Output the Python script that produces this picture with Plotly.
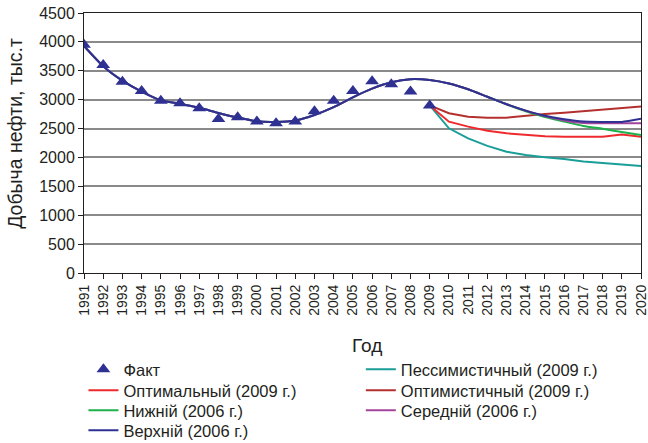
import plotly.graph_objects as go

years_fact = list(range(1991, 2010))
fact = [3950, 3600, 3310, 3150, 2980, 2940, 2850, 2665, 2695, 2620, 2590, 2620,
        2800, 2980, 3150, 3320, 3265, 3140, 2900]

years_hist = list(range(1991, 2021))
verkhniy = [3930, 3580, 3330, 3140, 2990, 2930, 2860, 2770, 2690, 2625, 2615, 2640,
            2735, 2870, 3040, 3190, 3300, 3355, 3340, 3280, 3180, 3050, 2920, 2810,
            2720, 2660, 2620, 2615, 2615, 2670]
nizhniy = [3930, 3580, 3330, 3140, 2990, 2930, 2860, 2770, 2690, 2625, 2615, 2640,
           2735, 2870, 3040, 3190, 3300, 3355, 3340, 3280, 3180, 3050, 2920, 2800,
           2700, 2620, 2545, 2495, 2440, 2390]
seredniy = [3930, 3580, 3330, 3140, 2990, 2930, 2860, 2770, 2690, 2625, 2615, 2640,
            2735, 2870, 3040, 3190, 3300, 3355, 3340, 3280, 3180, 3050, 2920, 2810,
            2715, 2640, 2595, 2590, 2590, 2590]

years_fc = list(range(2009, 2021))
pessim = [2900, 2504, 2330, 2200, 2100, 2043, 2003, 1974, 1928, 1900, 1876, 1853]
optimal = [2900, 2619, 2533, 2464, 2418, 2389, 2366, 2360, 2360, 2360, 2395, 2360]
optimist = [2900, 2764, 2706, 2688, 2688, 2723, 2750, 2775, 2800, 2830, 2850, 2880]

y_ticks = list(range(0, 4501, 500))

C_BLUE = "#2e3192"
C_TEAL = "#1a9e98"
C_RED = "#ee2a2e"
C_DRED = "#b3302f"
C_GREEN = "#1db14b"
C_MAG = "#a3449c"
TXT = "#231f20"
FONT = "Liberation Sans, Arial, sans-serif"

fig = go.Figure()
spl = dict(shape="spline", smoothing=0.6)
fig.add_trace(go.Scatter(x=years_fc, y=pessim, mode="lines", name="Пессимистичный (2009 г.)",
                         legend="legend2", line=dict(color=C_TEAL, width=2)))
fig.add_trace(go.Scatter(x=years_fc, y=optimal, mode="lines", name="Оптимальный (2009 г.)",
                         legend="legend3", line=dict(color=C_RED, width=2)))
fig.add_trace(go.Scatter(x=years_fc, y=optimist, mode="lines", name="Оптимистичный (2009 г.)",
                         legend="legend4", line=dict(color=C_DRED, width=2)))
fig.add_trace(go.Scatter(x=years_hist, y=nizhniy, mode="lines", name="Нижній (2006 г.)",
                         legend="legend5", line=dict(color=C_GREEN, width=2, **spl)))
fig.add_trace(go.Scatter(x=years_hist, y=seredniy, mode="lines", name="Середній (2006 г.)",
                         legend="legend6", line=dict(color=C_MAG, width=2, **spl)))
fig.add_trace(go.Scatter(x=years_hist, y=verkhniy, mode="lines", name="Верхній (2006 г.)",
                         legend="legend7", line=dict(color=C_BLUE, width=2, **spl)))
fig.add_trace(go.Scatter(x=years_fact, y=fact, mode="markers", name="Факт",
                         legend="legend",
                         marker=dict(symbol="triangle-up", size=12, color=C_BLUE)))

leg_common = dict(orientation="v", xanchor="left", yanchor="top",
                  font=dict(size=16.5, color=TXT, family=FONT), bgcolor="rgba(0,0,0,0)",
                  itemwidth=30)
col_x = [-0.001, 0.497]
row_y = [-0.3038, -0.3846, -0.4615, -0.5385]

fig.update_layout(
    width=648, height=443,
    margin=dict(l=84, r=7, t=13, b=170, autoexpand=False),
    paper_bgcolor="white", plot_bgcolor="white",
    font=dict(family=FONT, color=TXT),
    showlegend=True,
    legend=dict(x=col_x[0], y=row_y[0], **leg_common),
    legend2=dict(x=col_x[1], y=row_y[0], **leg_common),
    legend3=dict(x=col_x[0], y=row_y[1], **leg_common),
    legend4=dict(x=col_x[1], y=row_y[1], **leg_common),
    legend5=dict(x=col_x[0], y=row_y[2], **leg_common),
    legend6=dict(x=col_x[1], y=row_y[2], **leg_common),
    legend7=dict(x=col_x[0], y=row_y[3], **leg_common),
    xaxis=dict(range=[1991, 2020], tickmode="array", tickvals=years_hist,
               ticktext=[str(y) for y in years_hist], tickangle=-90,
               tickfont=dict(size=14, color=TXT), ticklabeloverflow="allow",
               showgrid=False, showline=True, linecolor=TXT, linewidth=1,
               mirror=True, ticks="outside", ticklen=5, tickcolor=TXT, zeroline=False),
    yaxis=dict(range=[0, 4500], tickvals=y_ticks, tickfont=dict(size=16, color=TXT),
               showgrid=True, gridcolor="#8a8a8a", gridwidth=1.5,
               showline=True, linecolor=TXT, linewidth=1, mirror=True,
               ticks="outside", ticklen=5, tickcolor=TXT, zeroline=False),
    annotations=[
        dict(text="Год", x=0.508, y=-0.277, xref="paper", yref="paper",
             showarrow=False, font=dict(size=19, color=TXT), yanchor="middle"),
        dict(text="Добыча нефти, тыс.т", x=-0.123, y=0.537, xref="paper", yref="paper",
             showarrow=False, textangle=-90, font=dict(size=19.5, color=TXT),
             xanchor="center", yanchor="middle"),
    ],
)

fig.write_html("out.html", config={"displayModeBar": False},
               post_script="document.body.style.margin='0px';")
